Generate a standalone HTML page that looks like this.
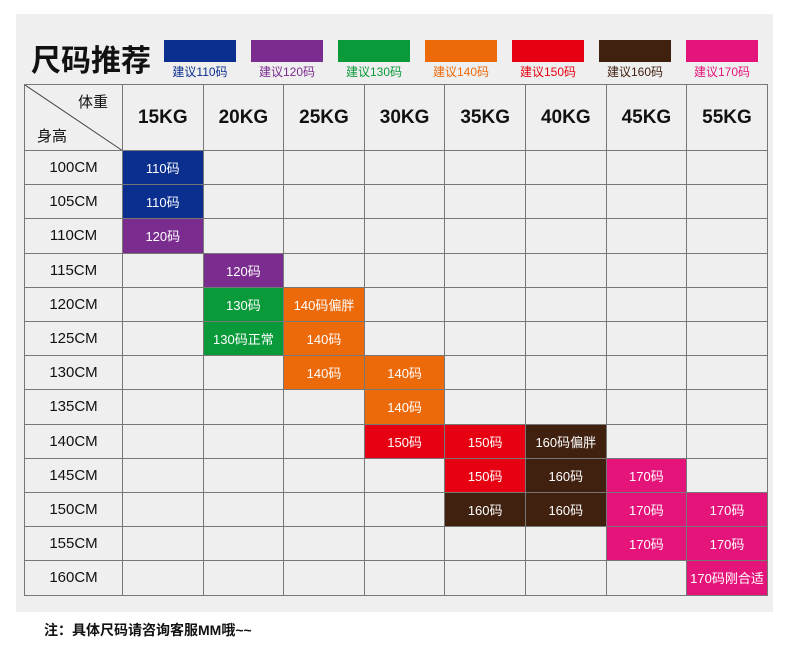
<!DOCTYPE html><html><head><meta charset="utf-8"><style>
body{margin:0;width:790px;height:650px;background:#fff;position:relative;font-family:"Liberation Sans","Noto Sans CJK SC",sans-serif;overflow:hidden}
.a{position:absolute}
.panel{left:16px;top:14px;width:757px;height:598px;background:#efefef}
.title{left:31px;top:36px;font-size:30px;font-weight:bold;color:#111;letter-spacing:0px}
.lb{width:72px;height:22px;top:40px}
.lt{top:63px;font-size:12px;width:72px;text-align:center}
.c{position:absolute;box-sizing:border-box;border:1px solid #777;display:flex;align-items:center;justify-content:center;font-size:13px;color:#fff}
.h{color:#111;font-size:19px;font-weight:bold}
.r{color:#111;font-size:15px}
.note{left:44px;top:620px;font-size:14px;font-weight:bold;color:#111}
</style></head><body>
<div class="a panel"></div>
<div class="a title">尺码推荐</div>
<div id="leg"></div>
<div id="tb"></div>
<div class="a note">注：具体尺码请咨询客服MM哦~~</div>
<script>
var cols=["#0a2f8f","#7b2c8f","#0a9a3a","#ec6a0a","#e60012","#40200f","#e4147a"];
var L="";for(var i=0;i<7;i++){var x=164+i*87;L+='<div class="a lb" style="left:'+x+'px;background:'+cols[i]+'"></div><div class="a lt" style="left:'+x+'px;color:'+cols[i]+'">建议'+(110+i*10)+'码</div>';}
document.getElementById('leg').innerHTML=L;
var X=[24];for(var i=0;i<=8;i++)X.push(122+i*80.6);
var Y=[84,150];for(var i=1;i<=13;i++)Y.push(150+i*34.2);
var H="";
function cell(ci,ri,txt,cls,bg){H+='<div class="c '+(cls||'')+'" style="left:'+X[ci]+'px;top:'+Y[ri]+'px;width:'+(X[ci+1]-X[ci]+1)+'px;height:'+(Y[ri+1]-Y[ri]+1)+'px;'+(bg?'background:'+bg:'')+'">'+txt+'</div>';}
H+='<div class="c" style="left:24px;top:84px;width:99px;height:67px;display:block"><svg width="99" height="67" style="position:absolute;left:0;top:0"><line x1="0" y1="0" x2="98" y2="66" stroke="#444" stroke-width="1"/></svg><span style="position:absolute;left:53px;top:6px;color:#111;font-size:15px">体重</span><span style="position:absolute;left:12px;top:40px;color:#111;font-size:15px">身高</span></div>';
var kg=[15,20,25,30,35,40,45,55];
for(var i=0;i<8;i++)cell(i+1,0,kg[i]+'KG','h');
var B=cols;
var data={
"1,1":["110码",0],"1,2":["110码",0],"1,3":["120码",1],"2,4":["120码",1],
"2,5":["130码",2],"3,5":["140码偏胖",3],"2,6":["130码正常",2],"3,6":["140码",3],
"3,7":["140码",3],"4,7":["140码",3],"4,8":["140码",3],
"4,9":["150码",4],"5,9":["150码",4],"6,9":["160码偏胖",5],
"5,10":["150码",4],"6,10":["160码",5],"7,10":["170码",6],
"5,11":["160码",5],"6,11":["160码",5],"7,11":["170码",6],"8,11":["170码",6],
"7,12":["170码",6],"8,12":["170码",6],"8,13":["170码刚合适",6]};
for(var r=1;r<=13;r++){cell(0,r,(95+r*5)+'CM','r');for(var c=1;c<=8;c++){var d=data[c+','+r];if(d)cell(c,r,d[0],'',B[d[1]]);else cell(c,r,'');}}
document.getElementById('tb').innerHTML=H;
</script>
</body></html>
